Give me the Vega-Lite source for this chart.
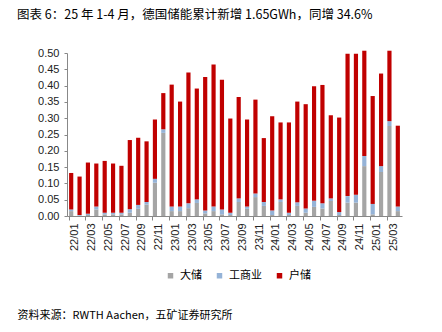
{
  "$schema": "https://vega.github.io/schema/vega-lite/v6.json",
  "width": 335,
  "height": 163,
  "autosize": {"type": "none"},
  "padding": {"left": 67, "top": 53, "right": 40, "bottom": 116},
  "background": "white",
  "title": {
    "text": "图表 6：25 年 1-4 月，德国储能累计新增 1.65GWh，同增 34.6%",
    "anchor": "start",
    "frame": "group",
    "dx": -50,
    "offset": 26,
    "font": "Noto Sans CJK SC",
    "fontSize": 12.5,
    "fontWeight": "normal",
    "color": "#000000"
  },
  "data": {
    "values": [
      {"month": "22/01", "大储": 0.015, "工商业": 0.005, "户储": 0.112},
      {"month": "22/02", "大储": 0.001, "工商业": 0.002, "户储": 0.118},
      {"month": "22/03", "大储": 0.003, "工商业": 0.004, "户储": 0.157},
      {"month": "22/04", "大储": 0.020, "工商业": 0.009, "户储": 0.132},
      {"month": "22/05", "大储": 0.005, "工商业": 0.005, "户储": 0.159},
      {"month": "22/06", "大储": 0.005, "工商业": 0.005, "户储": 0.151},
      {"month": "22/07", "大储": 0.005, "工商业": 0.005, "户储": 0.144},
      {"month": "22/08", "大储": 0.010, "工商业": 0.011, "户储": 0.212},
      {"month": "22/09", "大储": 0.022, "工商业": 0.012, "户储": 0.206},
      {"month": "22/10", "大储": 0.035, "工商业": 0.008, "户储": 0.186},
      {"month": "22/11", "大储": 0.102, "工商业": 0.012, "户储": 0.182},
      {"month": "22/12", "大储": 0.255, "工商业": 0.011, "户储": 0.111},
      {"month": "23/01", "大储": 0.015, "工商业": 0.014, "户储": 0.374},
      {"month": "23/02", "大储": 0.015, "工商业": 0.014, "户储": 0.322},
      {"month": "23/03", "大储": 0.024, "工商业": 0.015, "户储": 0.401},
      {"month": "23/04", "大储": 0.040, "工商业": 0.011, "户储": 0.340},
      {"month": "23/05", "大储": 0.008, "工商业": 0.009, "户储": 0.409},
      {"month": "23/06", "大储": 0.015, "工商业": 0.014, "户储": 0.436},
      {"month": "23/07", "大储": 0.005, "工商业": 0.015, "户储": 0.398},
      {"month": "23/08", "大储": 0.003, "工商业": 0.007, "户储": 0.289},
      {"month": "23/09", "大储": 0.043, "工商业": 0.011, "户储": 0.311},
      {"month": "23/10", "大储": 0.022, "工商业": 0.007, "户储": 0.267},
      {"month": "23/11", "大储": 0.058, "工商业": 0.011, "户储": 0.288},
      {"month": "23/12", "大储": 0.031, "工商业": 0.012, "户储": 0.196},
      {"month": "24/01", "大储": 0.003, "工商业": 0.014, "户储": 0.289},
      {"month": "24/02", "大储": 0.043, "工商业": 0.008, "户储": 0.236},
      {"month": "24/03", "大储": 0.003, "工商业": 0.007, "户储": 0.277},
      {"month": "24/04", "大储": 0.031, "工商业": 0.011, "户储": 0.309},
      {"month": "24/05", "大储": 0.010, "工商业": 0.013, "户储": 0.320},
      {"month": "24/06", "大储": 0.028, "工商业": 0.019, "户储": 0.351},
      {"month": "24/07", "大储": 0.023, "工商业": 0.016, "户储": 0.363},
      {"month": "24/08", "大储": 0.046, "工商业": 0.008, "户储": 0.255},
      {"month": "24/09", "大储": 0.003, "工商业": 0.009, "户储": 0.290},
      {"month": "24/10", "大储": 0.041, "工商业": 0.020, "户储": 0.437},
      {"month": "24/11", "大储": 0.041, "工商业": 0.024, "户储": 0.433},
      {"month": "24/12", "大储": 0.153, "工商业": 0.031, "户储": 0.323},
      {"month": "25/01", "大储": 0.005, "工商业": 0.032, "户储": 0.331},
      {"month": "25/02", "大储": 0.135, "工商业": 0.018, "户储": 0.284},
      {"month": "25/03", "大储": 0.276, "工商业": 0.015, "户储": 0.216},
      {"month": "25/04", "大储": 0.015, "工商业": 0.014, "户储": 0.248}
    ]
  },
  "transform": [
    {"fold": ["大储", "工商业", "户储"], "as": ["type", "value"]}
  ],
  "mark": {"type": "bar"},
  "encoding": {
    "x": {
      "field": "month",
      "type": "ordinal",
      "sort": null,
      "scale": {"paddingInner": 0.5, "paddingOuter": 0.25},
      "axis": {
        "values": ["22/01","22/03","22/05","22/07","22/09","22/11","23/01","23/03","23/05","23/07","23/09","23/11","24/01","24/03","24/05","24/07","24/09","24/11","25/01","25/03"],
        "bandPosition": 0,
        "labelOffset": 4.2,
        "labelAngle": -90,
        "labelFont": "Liberation Sans",
        "labelFontSize": 11,
        "labelColor": "#222222",
        "labelPadding": 3,
        "tickSize": 4,
        "tickColor": "#888888",
        "domainColor": "#888888",
        "title": "资料来源：RWTH Aachen，五矿证券研究所",
        "titleX": -50,
        "titleY": 99,
        "titleAnchor": "start",
        "titleAlign": "left",
        "titleBaseline": "middle",
        "titleFont": "Noto Sans CJK SC",
        "titleFontSize": 11,
        "titleFontWeight": "normal",
        "titleColor": "#000000"
      }
    },
    "y": {
      "field": "value",
      "type": "quantitative",
      "stack": "zero",
      "scale": {"domain": [0, 0.5], "nice": false},
      "axis": {
        "values": [0, 0.05, 0.1, 0.15, 0.2, 0.25, 0.3, 0.35, 0.4, 0.45, 0.5],
        "format": ".2f",
        "grid": false,
        "title": null,
        "labelFont": "Liberation Sans",
        "labelFontSize": 11,
        "labelColor": "#222222",
        "labelPadding": 5,
        "tickSize": 3,
        "tickColor": "#888888",
        "domainColor": "#888888"
      }
    },
    "color": {
      "field": "type",
      "type": "nominal",
      "scale": {"domain": ["大储", "工商业", "户储"], "range": ["#A5A5A5", "#95B3D7", "#C00000"]},
      "legend": {
        "title": null,
        "orient": "none",
        "legendX": 98,
        "legendY": 217,
        "direction": "horizontal",
        "symbolType": "square",
        "symbolSize": 30,
        "symbolStrokeWidth": 0,
        "labelFont": "Noto Sans CJK SC",
        "labelFontSize": 11,
        "labelColor": "#000000",
        "labelOffset": 4,
        "columnPadding": 12
      }
    },
    "order": {"field": "type", "type": "nominal", "sort": "ascending"}
  },
  "config": {"view": {"stroke": null}}
}
